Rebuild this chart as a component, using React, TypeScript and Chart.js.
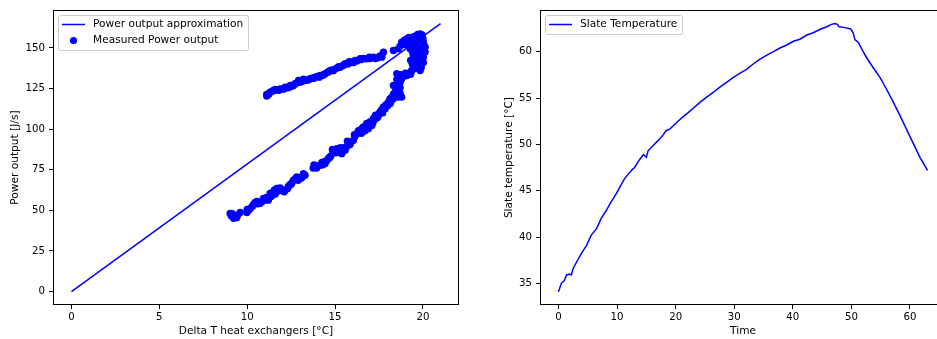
import React, { useEffect, useRef } from "react";
import { Chart, registerables } from "chart.js";

Chart.register(...registerables);

const FONT = "'DejaVu Sans', 'Liberation Sans', sans-serif";
const BLUE = "#0000ff";
const TICK_SIZE = 10.2;
const LABEL_SIZE = 10.6;

// ---------- Left panel data ----------
const approxDeltaT = [0, 21];
const approxPower = [0, 165];

const measuredDeltaT = [
  9.03, 9.1, 9.22, 9.31, 9.45, 9.6, 9.98, 10.08, 10.17, 10.3, 10.45, 10.6, 10.73, 10.92, 11.05, 11.2,
  11.3, 11.4, 11.49, 11.6, 11.68, 11.87, 12.0, 12.16, 12.3, 12.44, 12.55, 12.63, 12.82, 12.9, 13.01,
  13.15, 13.29, 13.75, 13.86, 14.0, 14.15, 14.3, 14.43, 14.52, 14.62, 14.75, 14.9, 15.0, 15.1, 15.2,
  15.38, 15.45, 15.57, 15.65, 15.76, 15.9, 16.04, 16.13, 16.23, 16.33, 16.42, 16.5, 16.61, 16.7, 16.8,
  16.89, 17.0, 17.09, 17.18, 17.3, 17.45, 17.56, 17.65, 17.75, 17.9, 18.03, 18.12, 18.23, 18.32, 18.41,
  18.6, 18.5, 18.32, 18.6, 18.51, 18.79, 18.51, 18.9, 19.08, 19.2, 19.36, 19.55, 19.74, 19.84, 19.55,
  19.84, 20.02, 19.65, 20.02, 19.45, 19.84, 20.12, 19.27, 20.12, 19.65, 20.02, 19.84, 19.93, 19.84,
  19.65, 19.45, 19.27, 19.08, 18.89, 18.79, 18.6,
  18.32, 17.75, 17.66, 17.45, 17.18, 17.0, 16.8, 16.6, 16.42, 16.25, 16.14, 15.99, 15.85, 15.7, 15.57,
  15.43, 15.29, 15.15, 15.0, 14.85, 14.72, 14.58, 14.43, 14.3, 14.15, 14.0, 13.86, 13.72, 13.58, 13.45,
  13.29, 13.15, 13.01, 12.92, 12.85, 12.72, 12.58, 12.44, 12.3, 12.16, 12.0, 11.87, 11.72, 11.59, 11.45,
  11.3, 11.2, 11.11, 11.11,
  9.15, 9.4, 10.0, 10.35, 10.55, 10.85, 11.1, 11.35, 11.55, 11.8, 12.1, 12.35, 12.5, 12.75, 13.1, 13.2,
  13.8, 13.95, 14.25, 14.4, 14.7, 14.85, 15.05, 15.3, 15.5, 15.7, 15.85, 16.1, 16.3, 16.55, 16.75, 16.95,
  17.15, 17.25, 17.4, 17.5, 17.7, 17.85, 18.0, 18.15, 18.3, 18.45, 18.79, 18.7, 18.55, 18.45, 18.7, 18.7,
  18.6, 18.75, 19.0, 19.3, 19.45, 19.6, 19.9, 19.4, 19.7, 19.3, 19.6, 19.95, 19.4, 19.5, 19.8, 19.35,
  20.05, 19.55, 19.7, 20.0, 19.95, 19.7, 19.5, 19.2, 18.95, 19.05, 18.7,
  17.55, 17.3, 16.95, 16.5, 16.05, 15.8, 15.5, 15.2, 14.9, 14.65, 14.35, 14.1, 13.8, 13.5, 13.2, 12.95,
  12.65, 12.4, 12.1, 11.8, 11.5, 11.25,
];
const measuredPower = [
  48.1, 46.5, 45.1, 46.0, 47.0, 48.7, 48.7, 50.0, 51.2, 52.5, 54.9, 54.0, 54.3, 57.3, 56.5, 56.3,
  60.4, 59.0, 61.4, 60.0, 63.5, 63.8, 62.5, 62.4, 63.5, 65.9, 67.0, 68.6, 70.6, 68.5, 69.6,
  71.0, 71.6, 76.0, 76.7, 77.5, 77.8, 78.0, 78.8, 80.5, 81.9, 83.5, 85.9, 87.0, 88.0, 86.0,
  84.9, 86.5, 87.0, 89.0, 91.1, 92.0, 93.1, 95.5, 97.2, 99.0, 99.3, 97.5, 101.3, 99.0, 103.5,
  100.3, 104.5, 102.3, 106.5, 108.5, 108.0, 110.5, 112.0, 113.6, 115.0, 116.6, 118.5, 119.7, 121.5, 122.8,
  119.7, 124.5, 126.9, 127.9, 130.5, 131.0, 134.1, 132.5, 133.0, 134.5, 136.1, 137.5, 139.2, 136.1, 141.2,
  141.2, 141.0, 143.5, 144.3, 145.3, 147.3, 147.5, 149.4, 150.4, 151.0, 153.5, 155.5, 156.5, 158.6,
  157.0, 155.5, 154.5, 155.5, 152.5, 153.5, 149.4,
  148.4, 147.3, 144.3, 144.0, 144.3, 143.5, 143.3, 143.5, 143.3, 142.0, 142.2, 141.3, 140.8, 140.0, 140.2,
  139.0, 138.1, 137.8, 137.1, 136.5, 136.1, 135.0, 134.1, 133.2, 133.0, 132.5, 132.0, 131.5, 131.0, 130.2,
  130.0, 129.5, 128.9, 130.0, 128.5, 127.9, 126.5, 126.9, 125.5, 125.8, 124.5, 124.8, 124.0, 124.4, 123.5,
  122.8, 121.5, 121.4, 120.4,
  48.0, 45.5, 50.5, 53.5, 55.5, 55.5, 58.0, 58.5, 62.5, 62.0, 61.5, 64.8, 66.0, 69.5, 70.0, 72.5,
  78.0, 76.0, 79.5, 80.0, 82.5, 87.5, 85.5, 88.5, 88.5, 92.5, 90.5, 96.5, 97.5, 100.5, 101.5, 102.5,
  104.0, 106.0, 107.0, 109.5, 110.0, 112.5, 114.5, 116.0, 118.5, 120.5, 119.7, 122.0, 123.5, 126.0, 125.5, 128.9,
  131.5, 133.5, 134.5, 133.8, 137.0, 138.5, 138.0, 140.0, 140.5, 142.2, 146.0, 146.5, 147.5, 149.5, 150.5, 152.0,
  152.0, 153.5, 155.0, 155.5, 158.0, 158.3, 157.0, 156.5, 154.8, 152.0, 151.0,
  145.0, 143.5, 144.2, 142.8, 141.0, 141.5, 139.5, 138.5, 136.0, 135.5, 133.5, 132.0, 131.3, 130.5, 130.8, 129.2,
  127.0, 125.8, 124.8, 124.0, 123.8, 121.8,
];

const leftXTicks = [0, 5, 10, 15, 20];
const leftYTicks = [0, 25, 50, 75, 100, 125, 150];

// ---------- Right panel data ----------
const timeValues = [
  0, 0.5, 1.0, 1.4, 1.9, 2.2, 2.5, 3.1, 3.9, 4.8, 5.6, 6.5, 7.3, 8.2, 9.0, 9.9, 10.8, 11.3, 12.2, 12.7,
  13.0, 13.9, 14.5, 15.0, 15.3, 16.2, 17.0, 17.9, 18.4, 19.0, 19.6, 20.4, 21.3, 22.1, 23.0, 24.1, 25.3,
  26.4, 27.6, 28.7, 29.8, 31.0, 32.1, 33.3, 34.4, 35.5, 36.7, 37.8, 38.9, 40.0, 41.2, 42.4, 43.5, 44.6,
  45.8, 46.6, 47.2, 47.6, 47.9, 48.9, 49.9, 50.3, 50.6, 51.2, 51.8, 52.6, 53.7, 54.9, 56.0, 57.2, 58.3,
  59.4, 60.6, 61.7, 63.0,
];
const slateTemp = [
  34.1, 35.0, 35.3, 35.9, 36.0, 35.9, 36.6, 37.3, 38.2, 39.1, 40.2, 40.9, 42.0, 42.9, 43.8, 44.7, 45.75,
  46.3, 47.0, 47.35, 47.5, 48.4, 48.9, 48.6, 49.3, 49.9, 50.4, 51.05, 51.5, 51.65, 52.0, 52.5, 53.0, 53.4,
  53.9, 54.5, 55.1, 55.6, 56.2, 56.7, 57.2, 57.7, 58.1, 58.7, 59.2, 59.6, 60.0, 60.4, 60.7, 61.1, 61.35,
  61.8, 62.05, 62.4, 62.7, 62.95, 63.05, 62.95, 62.7, 62.6, 62.45, 62.05, 61.3, 61.0, 60.25, 59.35, 58.3,
  57.2, 55.95, 54.5, 53.1, 51.65, 50.05, 48.6, 47.18,
];
const rightXTicks = [0, 10, 20, 30, 40, 50, 60];
const rightYTicks = [35, 40, 45, 50, 55, 60];

// ---------- helpers ----------
const zip = (xs: number[], ys: number[]) => xs.map((x, i) => ({ x, y: ys[i] }));

function makeScale(
  min: number,
  max: number,
  ticks: number[],
  title: string,
  size: number,
  tickPad: number,
  titlePad: any
) {
  return {
    type: "linear",
    min,
    max,
    afterBuildTicks: (s: any) => {
      s.ticks = ticks.map((v) => ({ value: v }));
    },
    afterFit: (s: any) => {
      if (s.isHorizontal()) s.height = size;
      else s.width = size;
    },
    grid: { drawOnChartArea: false, drawTicks: true, tickLength: 4, color: "#000", lineWidth: 1 },
    border: { display: false },
    ticks: {
      font: { family: FONT, size: TICK_SIZE },
      color: "#000",
      padding: tickPad,
      maxRotation: 0,
      autoSkip: false,
    },
    title: {
      display: true,
      text: title,
      font: { family: FONT, size: LABEL_SIZE },
      color: "#000",
      padding: titlePad,
    },
  };
}

const frameLegendPlugin = {
  id: "frameLegend",
  afterDatasetsDraw(chart: any) {
    const { ctx, chartArea: a } = chart;
    ctx.save();
    ctx.strokeStyle = "#000";
    ctx.lineWidth = 1;
    ctx.strokeRect(
      Math.round(a.left) + 0.5,
      Math.round(a.top) + 0.5,
      Math.round(a.right - a.left) - 1,
      Math.round(a.bottom - a.top) - 1
    );
    ctx.restore();
  },
  afterDraw(chart: any) {
    const { ctx, chartArea: a } = chart;
    const ds = chart.data.datasets;
    ctx.save();
    ctx.font = `${LABEL_SIZE}px ${FONT}`;
    const textW = Math.max(...ds.map((d: any) => ctx.measureText(d.label).width));
    const x0 = Math.round(a.left) + 5.5;
    const y0 = Math.round(a.top) + 5.5;
    const w = Math.round(35 + textW + 5);
    const h = 19 + (ds.length - 1) * 16;
    const r = 2;
    ctx.beginPath();
    ctx.moveTo(x0 + r, y0);
    ctx.lineTo(x0 + w - r, y0);
    ctx.arcTo(x0 + w, y0, x0 + w, y0 + r, r);
    ctx.lineTo(x0 + w, y0 + h - r);
    ctx.arcTo(x0 + w, y0 + h, x0 + w - r, y0 + h, r);
    ctx.lineTo(x0 + r, y0 + h);
    ctx.arcTo(x0, y0 + h, x0, y0 + h - r, r);
    ctx.lineTo(x0, y0 + r);
    ctx.arcTo(x0, y0, x0 + r, y0, r);
    ctx.closePath();
    ctx.fillStyle = "rgba(255,255,255,0.8)";
    ctx.fill();
    ctx.strokeStyle = "#cccccc";
    ctx.lineWidth = 1;
    ctx.stroke();
    ds.forEach((d: any, i: number) => {
      const cy = y0 + 9 + i * 16;
      if (d.showLine) {
        ctx.beginPath();
        ctx.moveTo(x0 + 3.5, cy);
        ctx.lineTo(x0 + 26.5, cy);
        ctx.strokeStyle = d.borderColor;
        ctx.lineWidth = 1.5;
        ctx.stroke();
      } else {
        ctx.beginPath();
        ctx.arc(x0 + 15, cy, 3.6, 0, Math.PI * 2);
        ctx.fillStyle = d.pointBackgroundColor;
        ctx.fill();
      }
      ctx.fillStyle = "#000";
      ctx.textBaseline = "middle";
      ctx.textAlign = "left";
      ctx.fillText(d.label, x0 + 34.5, cy);
    });
    ctx.restore();
  },
};

export default function App() {
  const leftRef = useRef<HTMLCanvasElement>(null);
  const rightRef = useRef<HTMLCanvasElement>(null);

  useEffect(() => {
    const left = new Chart(leftRef.current as HTMLCanvasElement, {
      type: "scatter",
      data: {
        datasets: [
          {
            label: "Power output approximation",
            data: zip(approxDeltaT, approxPower),
            showLine: true,
            borderColor: BLUE,
            borderWidth: 1.5,
            pointRadius: 0,
            order: 1,
          },
          {
            label: "Measured Power output",
            data: zip(measuredDeltaT, measuredPower),
            showLine: false,
            pointRadius: 3.7,
            pointBackgroundColor: BLUE,
            pointBorderWidth: 0,
            borderColor: BLUE,
            order: 0,
          },
        ],
      },
      options: {
        responsive: false,
        animation: false,
        events: [],
        layout: { padding: { left: 0, top: 9, right: 11, bottom: 0 } },
        plugins: { legend: { display: false }, tooltip: { enabled: false } },
        scales: {
          x: makeScale(-1.05, 22.05, leftXTicks, "Delta T heat exchangers [°C]", 34, 2.5, { top: 0, bottom: 0.9 }),
          y: makeScale(-8.25, 173.25, leftYTicks, "Power output [J/s]", 53, 4, { top: 8.9, bottom: 0 }),
        },
      } as any,
      plugins: [frameLegendPlugin],
    } as any);

    const right = new Chart(rightRef.current as HTMLCanvasElement, {
      type: "scatter",
      data: {
        datasets: [
          {
            label: "Slate Temperature",
            data: zip(timeValues, slateTemp),
            showLine: true,
            borderColor: BLUE,
            borderWidth: 1.5,
            pointRadius: 0,
          },
        ],
      },
      options: {
        responsive: false,
        animation: false,
        events: [],
        layout: { padding: { left: 0, top: 9, right: 24, bottom: 0 } },
        plugins: { legend: { display: false }, tooltip: { enabled: false } },
        scales: {
          x: makeScale(-3.15, 66.15, rightXTicks, "Time", 34, 2.5, { top: 0, bottom: 0.9 }),
          y: makeScale(32.66, 64.49, rightYTicks, "Slate temperature [°C]", 70, 4, { top: 32.9, bottom: 0 }),
        },
      } as any,
      plugins: [frameLegendPlugin],
    } as any);

    return () => {
      left.destroy();
      right.destroy();
    };
  }, []);

  return (
    <div
      style={{
        position: "fixed",
        left: 0,
        top: 0,
        width: 937,
        height: 339,
        overflow: "hidden",
        background: "#fff",
      }}
    >
      <canvas ref={leftRef} width={470} height={339} style={{ position: "absolute", left: 0, top: 0 }} />
      <canvas ref={rightRef} width={500} height={339} style={{ position: "absolute", left: 470, top: 0 }} />
    </div>
  );
}
